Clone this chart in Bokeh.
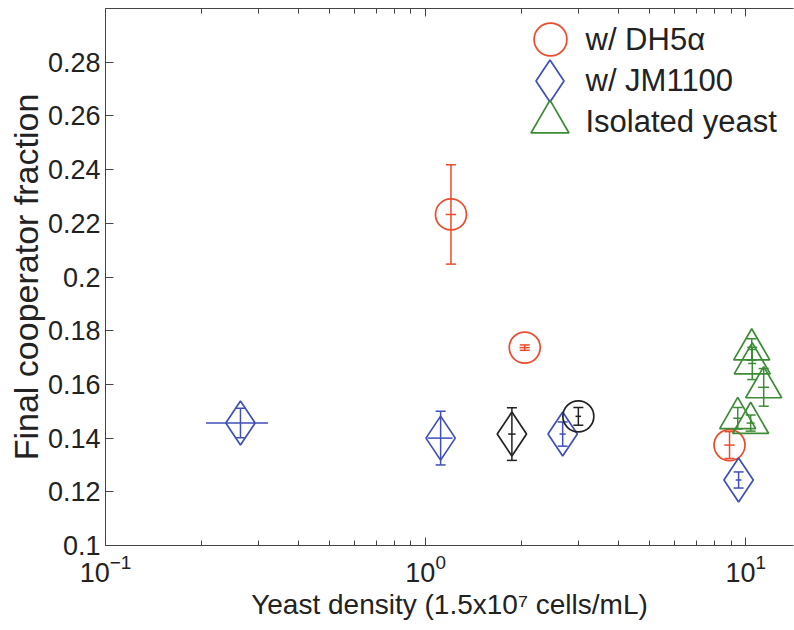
from bokeh.plotting import figure
from bokeh.models import (ColumnDataSource, Whisker, TeeHead, FixedTicker, LogAxis,
                          Legend, LegendItem, CustomJSTickFormatter, Label)
from bokeh.embed import file_html
from bokeh.resources import INLINE

# ---- data ----
dh5a_x = [1.20, 2.04, 8.9]
dh5a_y = [0.2233, 0.1737, 0.1374]
dh5a_yerr = [0.0185, 0.0010, 0.0050]
dh5a_xerr = [0.045, 0.075, 0.33]

jm_x = [0.264, 1.114, 2.68, 9.5]
jm_y = [0.1456, 0.1400, 0.1415, 0.1244]
jm_yerr = [0.0055, 0.0100, 0.0045, 0.0030]
jm_xerr = [0.058, 0.10, 0.06, 0.2]

blk_circ_x = [3.0]
blk_circ_y = [0.1481]
blk_circ_yerr = [0.0033]
blk_circ_xerr = [0.06]

blk_diam_x = [1.86]
blk_diam_y = [0.1415]
blk_diam_yerr = [0.0098]
blk_diam_xerr = [0.05]

iso_x = [10.44, 10.48, 11.38, 9.44, 10.36]
iso_y = [0.1730, 0.1678, 0.1589, 0.1474, 0.1456]
iso_yerr = [0.004, 0.006, 0.007, 0.004, 0.003]
iso_xerr = [0.3, 0.3, 0.45, 0.3, 0.3]

legend_labels = ["w/ DH5\u03b1", "w/ JM1100", "Isolated yeast"]

x_major = [0.1, 1, 10]
x_minor = [0.2, 0.3, 0.4, 0.5, 0.6, 0.7, 0.8, 0.9, 2, 3, 4, 5, 6, 7, 8, 9]
x_labels = {"0.1": "10\u207b\u00b9", "1": "10\u2070", "10": "10\u00b9"}
y_ticks = [0.10, 0.12, 0.14, 0.16, 0.18, 0.20, 0.22, 0.24, 0.26, 0.28]

RED = "#ec4b2c"
BLUE = "#3f4fb8"
GREEN = "#3c8c36"
BLACK = "#222222"
FONT = "Liberation Sans"

p = figure(width=794, height=630, x_axis_type="log", x_range=(0.1, 14.1), y_range=(0.1, 0.3),
           output_backend="svg", toolbar_location=None,
           min_border_left=105, min_border_right=1, min_border_top=8, min_border_bottom=85)
p.outline_line_color = None
p.xgrid.visible = False
p.ygrid.visible = False
p.background_fill_color = "white"
p.border_fill_color = "white"


def make_src(x, y, xe, ye):
    return ColumnDataSource(dict(
        x=x, y=y,
        xl=[a - e for a, e in zip(x, xe)], xu=[a + e for a, e in zip(x, xe)],
        yl=[a - e for a, e in zip(y, ye)], yu=[a + e for a, e in zip(y, ye)]))


def series(x, y, xe, ye, marker, size, color):
    src = make_src(x, y, xe, ye)
    p.add_layout(Whisker(source=src, base="x", lower="yl", upper="yu", dimension="height",
                         line_color=color, line_width=1.5,
                         lower_head=TeeHead(size=10, line_color=color, line_width=1.5),
                         upper_head=TeeHead(size=10, line_color=color, line_width=1.5)))
    p.add_layout(Whisker(source=src, base="y", lower="xl", upper="xu", dimension="width",
                         line_color=color, line_width=1.5,
                         lower_head=None, upper_head=None))
    return p.scatter("x", "y", source=src, marker=marker, size=size, fill_color=None,
                     line_color=color, line_width=1.7)


r_red = series(dh5a_x, dh5a_y, dh5a_xerr, dh5a_yerr, "circle", 31, RED)
r_blue = series(jm_x, jm_y, jm_xerr, jm_yerr, "diamond", 44, BLUE)
series(blk_circ_x, blk_circ_y, blk_circ_xerr, blk_circ_yerr, "circle", 31, BLACK)
series(blk_diam_x, blk_diam_y, blk_diam_xerr, blk_diam_yerr, "diamond", 44, BLACK)
r_green = series(iso_x, iso_y, iso_xerr, iso_yerr, "triangle", 36, GREEN)

# ---- axes ----
AX = "#444444"
p.xaxis.ticker = FixedTicker(ticks=x_major, minor_ticks=x_minor)
p.xaxis.major_label_overrides = x_labels
p.yaxis.ticker = FixedTicker(ticks=y_ticks, minor_ticks=[])
p.yaxis.formatter = CustomJSTickFormatter(code="return (Math.round(tick*100)/100).toString();")

for ax in (p.xaxis[0], p.yaxis[0]):
    ax.major_tick_in = 8
    ax.major_tick_out = 0
    ax.minor_tick_in = 5
    ax.minor_tick_out = 0
    ax.axis_line_color = AX
    ax.major_tick_line_color = AX
    ax.minor_tick_line_color = AX
    ax.major_label_text_font = FONT
    ax.major_label_text_font_size = "27px"
    ax.major_label_text_color = "#222222"
    ax.axis_label_text_font = FONT
    ax.axis_label_text_font_style = "normal"
    ax.axis_label_text_color = "#222222"

p.xaxis.axis_label = "Yeast density (1.5x10\u2077 cells/mL)"
p.xaxis.axis_label_text_font_size = "28px"
p.xaxis.major_label_standoff = 8
p.xaxis.axis_label_standoff = 4
p.yaxis.axis_label = "Final cooperator fraction"
p.yaxis.axis_label_text_font_size = "34px"
p.yaxis.major_label_standoff = 5
p.yaxis.axis_label_standoff = 0

top = LogAxis(ticker=FixedTicker(ticks=x_major, minor_ticks=x_minor),
              formatter=CustomJSTickFormatter(code="return '';"),
              major_tick_in=8, major_tick_out=0,
              minor_tick_in=5, minor_tick_out=0, axis_line_color=AX,
              major_tick_line_color=AX, minor_tick_line_color=AX, major_label_standoff=0)
p.add_layout(top, "above")

# ---- legend: one key per row (large marker keys), texts beside them ----
key_specs = [(r_red, 82, (404, 465)), (r_blue, 105, (392, 412)), (r_green, 95, (397, 376))]
for rend, box, loc in key_specs:
    p.add_layout(Legend(items=[LegendItem(label="", renderers=[rend])], location=loc,
                        glyph_width=box, glyph_height=box, label_standoff=0, padding=0,
                        margin=0, border_line_color=None, background_fill_alpha=0,
                        label_text_font_size="1px"))

for txt, ypos in zip(legend_labels, [506, 465, 424]):
    p.add_layout(Label(x=480, y=ypos, x_units="screen", y_units="screen", text=txt,
                       text_font=FONT, text_font_size="31px", text_color="#222222",
                       text_baseline="middle", text_align="left"))

open("out.html", "w").write(file_html(p, INLINE))
